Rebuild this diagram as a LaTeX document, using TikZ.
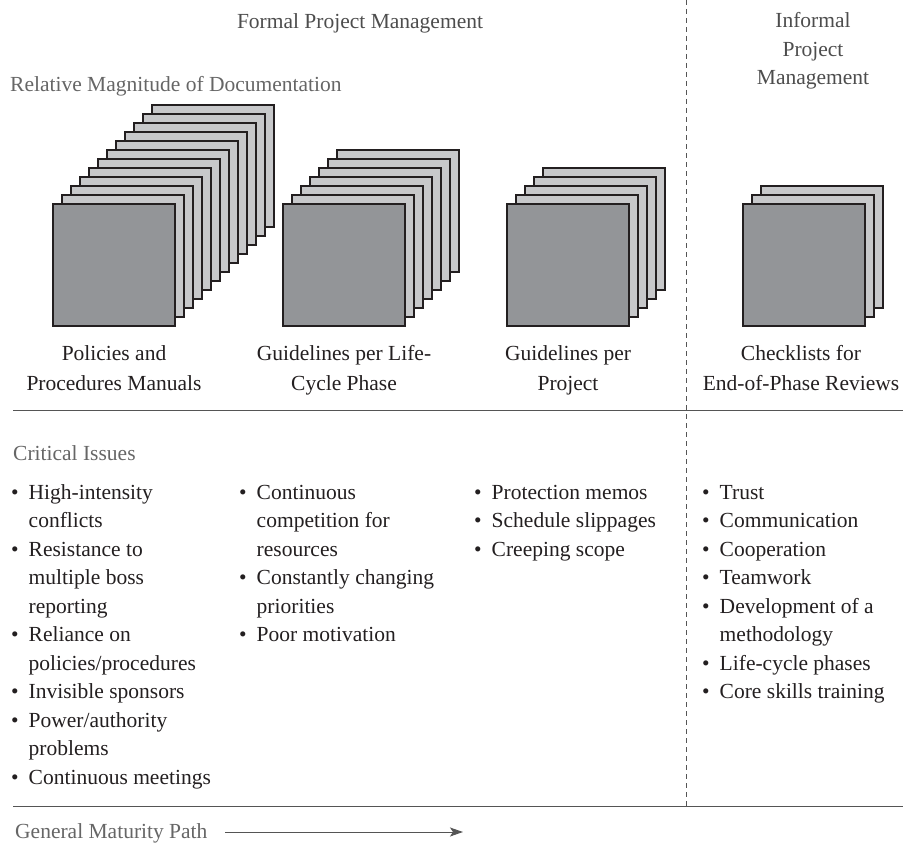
\documentclass[tikz,border=0pt]{standalone}
\usepackage{fontspec}
\setmainfont{Liberation Serif}
\usetikzlibrary{arrows.meta}
\definecolor{txt}{HTML}{231F20}
\definecolor{headc}{HTML}{4D4D4D}
\definecolor{subc}{HTML}{666666}
\definecolor{frontc}{HTML}{939598}
\definecolor{backc}{HTML}{C7C8CA}
\definecolor{rulec}{HTML}{555555}
\begin{document}
\begin{tikzpicture}[x=1pt,y=-1pt,
  every node/.style={inner sep=0pt, text=txt, font=\fontsize{21.5}{28.5}\selectfont},
  headtext/.style={text=headc},
  subtext/.style={text=subc},
  labeltext/.style={font=\fontsize{21.5}{30}\selectfont},
  backpage/.style={draw=txt, line width=1.3pt, fill=backc},
  frontpage/.style={draw=txt, line width=1.3pt, fill=frontc},
  rulel/.style={draw=rulec, line width=1pt},
  dashl/.style={draw=rulec, line width=1pt, dash pattern=on 5pt off 4pt}]
\useasboundingbox (0,0) rectangle (903,843);

% headers
\node[headtext, anchor=base] (formal) at (360,29) {Formal Project Management};
\node[headtext, anchor=base] (informal) at (813,28) {\begin{tabular}[t]{@{}c@{}}Informal\\Project\\Management\end{tabular}};
\node[subtext, anchor=base west] (relmag) at (10,92) {Relative Magnitude of Documentation};

% stacks of documents
\foreach \x/\n in {53/11, 283/6, 507/4, 743/2} {
  \foreach \k in {\n,...,1} {
    \draw[backpage] (\x+9*\k, 204-9*\k) rectangle ++(122,122);
  }
  \draw[frontpage] (\x,204) rectangle ++(122,122);
}

% labels under stacks
\node[labeltext, anchor=base] (lab1) at (114,360) {\begin{tabular}[t]{@{}c@{}}Policies and\\Procedures Manuals\end{tabular}};
\node[labeltext, anchor=base] (lab2) at (344,360) {\begin{tabular}[t]{@{}c@{}}Guidelines per Life-\\Cycle Phase\end{tabular}};
\node[labeltext, anchor=base] (lab3) at (568,360) {\begin{tabular}[t]{@{}c@{}}Guidelines per\\Project\end{tabular}};
\node[labeltext, anchor=base] (lab4) at (801,360) {\begin{tabular}[t]{@{}c@{}}Checklists for\\End-of-Phase Reviews\end{tabular}};

% rules
\coordinate (r1a) at (13,410); \coordinate (r1b) at (903,410);
\coordinate (r2a) at (13,806); \coordinate (r2b) at (903,806);
\coordinate (da) at (686,0); \coordinate (db) at (686,806);
\draw[rulel] (r1a) -- (r1b);
\draw[rulel] (r2a) -- (r2b);
\draw[dashl] (da) -- (db);

% critical issues
\node[subtext, anchor=base west] (crit) at (13,460) {Critical Issues};

\node[anchor=base west] (col1) at (11,499) {\begin{tabular}[t]{@{}l@{\hspace{10pt}}l@{}}
\textbullet & High-intensity\\
 & conflicts\\
\textbullet & Resistance to\\
 & multiple boss\\
 & reporting\\
\textbullet & Reliance on\\
 & policies/procedures\\
\textbullet & Invisible sponsors\\
\textbullet & Power/authority\\
 & problems\\
\textbullet & Continuous meetings
\end{tabular}};

\node[anchor=base west] (col2) at (239,499) {\begin{tabular}[t]{@{}l@{\hspace{10pt}}l@{}}
\textbullet & Continuous\\
 & competition for\\
 & resources\\
\textbullet & Constantly changing\\
 & priorities\\
\textbullet & Poor motivation
\end{tabular}};

\node[anchor=base west] (col3) at (474,499) {\begin{tabular}[t]{@{}l@{\hspace{10pt}}l@{}}
\textbullet & Protection memos\\
\textbullet & Schedule slippages\\
\textbullet & Creeping scope
\end{tabular}};

\node[anchor=base west] (col4) at (702,499) {\begin{tabular}[t]{@{}l@{\hspace{10pt}}l@{}}
\textbullet & Trust\\
\textbullet & Communication\\
\textbullet & Cooperation\\
\textbullet & Teamwork\\
\textbullet & Development of a\\
 & methodology\\
\textbullet & Life-cycle phases\\
\textbullet & Core skills training
\end{tabular}};

% maturity path
\node[subtext, anchor=base west] (gmp) at (15,838) {General Maturity Path};
\coordinate (arrS) at (225,832);
\coordinate (arrE) at (463,832);
\draw[draw=rulec, line width=1pt, -{Stealth[length=13pt,width=9pt,inset=3pt]}] (arrS) -- (arrE);
\end{tikzpicture}
\end{document}
